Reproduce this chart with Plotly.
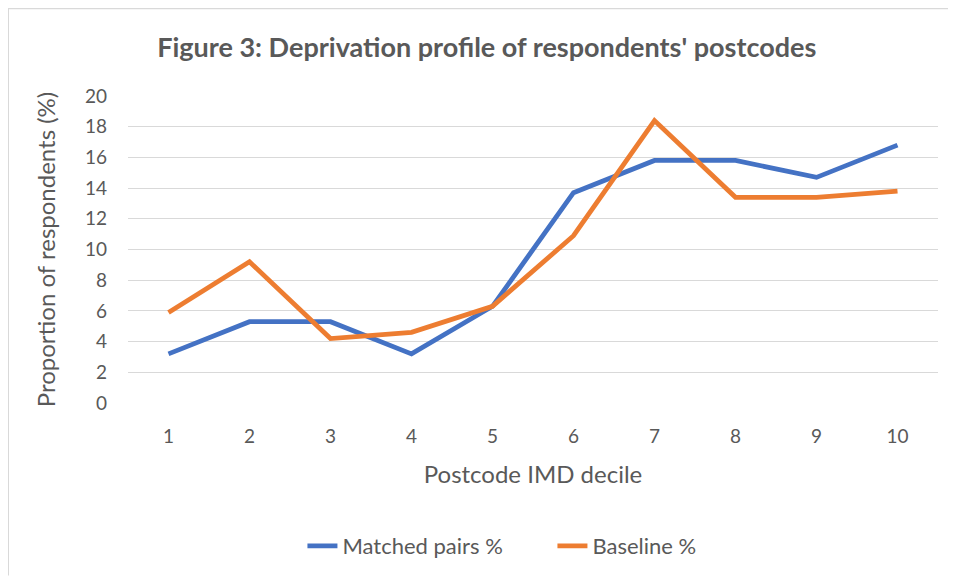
import plotly.graph_objects as go

# Data
deciles = [1, 2, 3, 4, 5, 6, 7, 8, 9, 10]
matched_pairs = [3.2, 5.3, 5.3, 3.2, 6.3, 13.7, 15.8, 15.8, 14.7, 16.8]
baseline = [5.9, 9.2, 4.2, 4.6, 6.3, 10.9, 18.4, 13.4, 13.4, 13.8]
y_ticks = [0, 2, 4, 6, 8, 10, 12, 14, 16, 18, 20]

FONT = "Lato, 'Open Sans', sans-serif"
GREY = "#595959"

# figure is drawn 8px in from the page edge, so size/margins are set for that
W, H = 948, 569
L, R, T, B = 120, 18, 88, 173
PW, PH = W - L - R, H - T - B

fig = go.Figure()

fig.add_trace(go.Scatter(
    x=deciles, y=matched_pairs, name="Matched pairs %",
    mode="lines", line=dict(color="#4472C4", width=4.8),
))
fig.add_trace(go.Scatter(
    x=deciles, y=baseline, name="Baseline %",
    mode="lines", line=dict(color="#ED7D31", width=4.8),
))

# chart border (only top and left edges are visible in the reference)
left_x = -L / PW
top_y = 1 + T / PH
fig.add_shape(type="line", xref="paper", yref="paper",
              x0=left_x, x1=left_x, y0=-B / PH, y1=top_y,
              line=dict(color="#D9D9D9", width=2))
fig.add_shape(type="line", xref="paper", yref="paper",
              x0=left_x, x1=1 + R / PW, y0=top_y, y1=top_y,
              line=dict(color="#D9D9D9", width=2))

fig.update_layout(
    width=W, height=H,
    paper_bgcolor="white", plot_bgcolor="white",
    margin=dict(l=L, r=R, t=T, b=B),
    font=dict(family=FONT, color=GREY),
    title=dict(
        text="<b>Figure 3: Deprivation profile of respondents' postcodes</b>",
        x=0.505, xanchor="center", y=0.931, yanchor="middle",
        font=dict(size=27, color=GREY, family=FONT),
    ),
    xaxis=dict(
        range=[0.5, 10.5], tickvals=deciles, ticks="",
        showgrid=False, zeroline=False, showline=False,
        tickfont=dict(size=19, color=GREY), ticklabelstandoff=20,
        title=dict(text="Postcode IMD decile", font=dict(size=24, color=GREY), standoff=20),
    ),
    yaxis=dict(
        range=[0, 20], tickvals=y_ticks, ticks="",
        showgrid=True, gridcolor="#D9D9D9", gridwidth=1.3,
        zeroline=False, showline=False,
        tickfont=dict(size=19, color=GREY), ticklabelstandoff=20,
        title=dict(text="Proportion of respondents (%)", font=dict(size=24, color=GREY), standoff=22),
    ),
    legend=dict(
        orientation="h", x=0.524, xanchor="center", y=-0.461, yanchor="middle",
        font=dict(size=22, color=GREY), entrywidth=205, entrywidthmode="pixels",
    ),
    showlegend=True,
)

fig.write_html("out.html")
